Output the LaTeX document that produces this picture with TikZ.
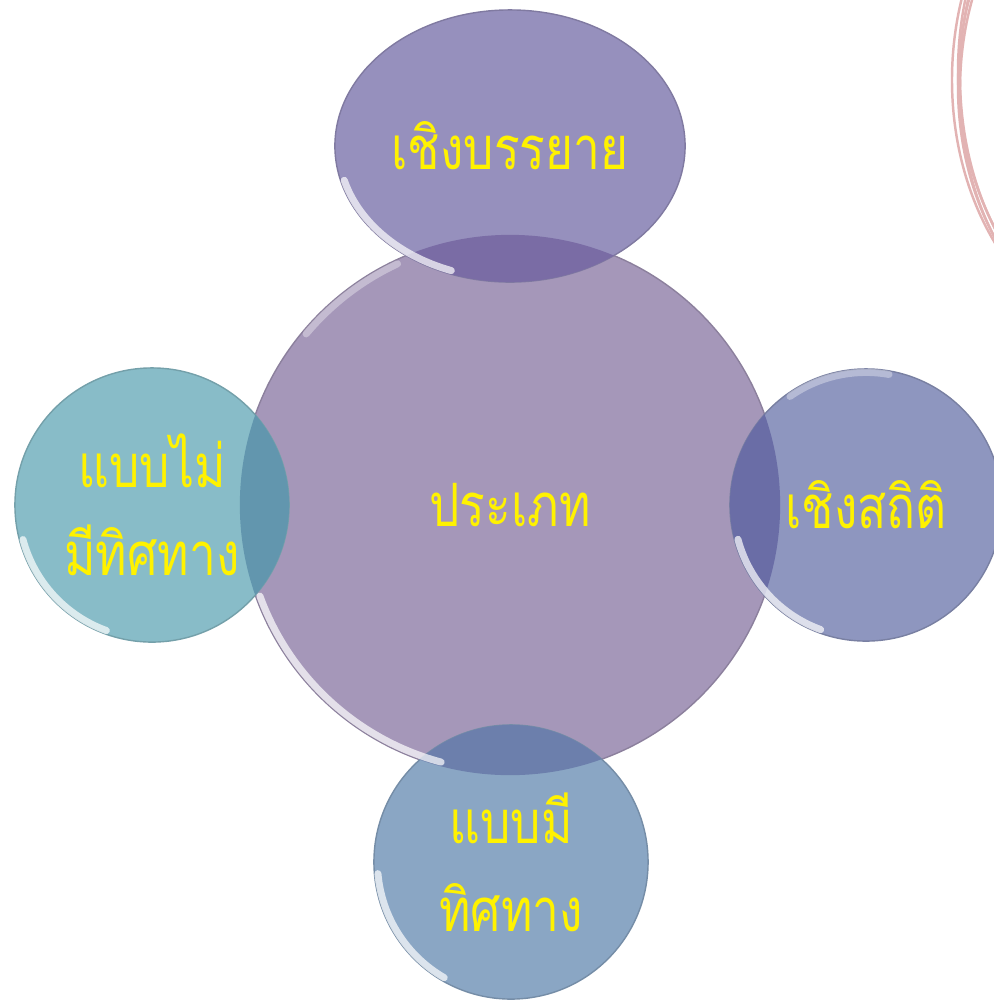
\documentclass[tikz,border=0pt]{standalone}
\usepackage{fontspec}
\newfontfamily\thaifont[Script=Thai,FakeStretch=0.8]{Loma}
\usetikzlibrary{shapes.geometric}

\definecolor{corefill}{HTML}{A597B9}
\definecolor{topfill}{HTML}{9690BD}
\definecolor{rightfill}{HTML}{8E96BF}
\definecolor{leftfill}{HTML}{88BCC8}
\definecolor{downfill}{HTML}{8AA6C4}
\definecolor{topmix}{HTML}{7A6CA5}
\definecolor{rightmix}{HTML}{6A6DA6}
\definecolor{leftmix}{HTML}{6296AE}
\definecolor{downmix}{HTML}{6C7FAC}
\definecolor{sketch}{HTML}{E2B3B3}

\begin{document}
\begin{tikzpicture}[
x=0.01cm, y=-0.01cm,
every node/.style={
inner sep=0,
align=center,
text=yellow,
font=\thaifont\fontsize{17}{25}\selectfont
},
bubble/.style={
circle,
fill=#1,
draw=black!15!#1,
line width=0.4pt
},
rim/.style={
white,
opacity=0.7,
line width=2pt,
line cap=round
},
pencil/.style={
sketch,
line width=0.7pt
}
]
\useasboundingbox (0,0) rectangle (994,1005);

\begin{scope}
\clip (0,0) rectangle (994,1005);
\draw[pencil] (1150,80) ellipse [x radius=198, y radius=262];
\draw[pencil] (1156,76) ellipse [x radius=196, y radius=268];
\draw[pencil] (1144,86) ellipse [x radius=186, y radius=254];
\draw[pencil] (1162,72) ellipse [x radius=204, y radius=272];
\draw[pencil] (1140,90) ellipse [x radius=180, y radius=250];
\end{scope}

\node[bubble=corefill, minimum size=5.4cm] (core)
at (510,505)
{ประเภท};

\node[bubble=topfill, ellipse, minimum width=3.5cm, minimum height=2.72cm] (desc)
at (510,146)
{เชิงบรรยาย};

\node[bubble=rightfill, minimum size=2.72cm] (stat)
at (866,505)
{เชิงสถิติ};

\node[bubble=leftfill, minimum size=2.74cm] (nodir)
at (152,505)
{แบบไม่\\มีทิศทาง};

\node[bubble=downfill, minimum size=2.74cm] (dir)
at (511,862)
{แบบมี\\ทิศทาง};

\begin{scope}
\clip (core.center) circle [radius=2.7cm];
\fill[topmix] (desc.center) ellipse [x radius=1.75cm, y radius=1.36cm];
\fill[rightmix] (stat.center) circle [radius=1.36cm];
\fill[leftmix] (nodir.center) circle [radius=1.37cm];
\fill[downmix] (dir.center) circle [radius=1.37cm];
\end{scope}

\draw[rim, opacity=0.35] (core.center) ++(115:2.66cm) arc [start angle=115, end angle=140, radius=2.66cm];
\draw[rim] (core.center) ++(200:2.66cm) arc [start angle=200, end angle=255, radius=2.66cm];
\draw[rim] (desc.center) ++(195:1.715cm and 1.325cm) arc [start angle=195, end angle=250, x radius=1.715cm, y radius=1.325cm];
\draw[rim] (stat.center) ++(195:1.325cm) arc [start angle=195, end angle=250, radius=1.325cm];
\draw[rim, opacity=0.35] (stat.center) ++(80:1.325cm) arc [start angle=80, end angle=125, radius=1.325cm];
\draw[rim] (nodir.center) ++(195:1.335cm) arc [start angle=195, end angle=250, radius=1.335cm];
\draw[rim] (dir.center) ++(185:1.335cm) arc [start angle=185, end angle=240, radius=1.335cm];

\end{tikzpicture}
\end{document}
